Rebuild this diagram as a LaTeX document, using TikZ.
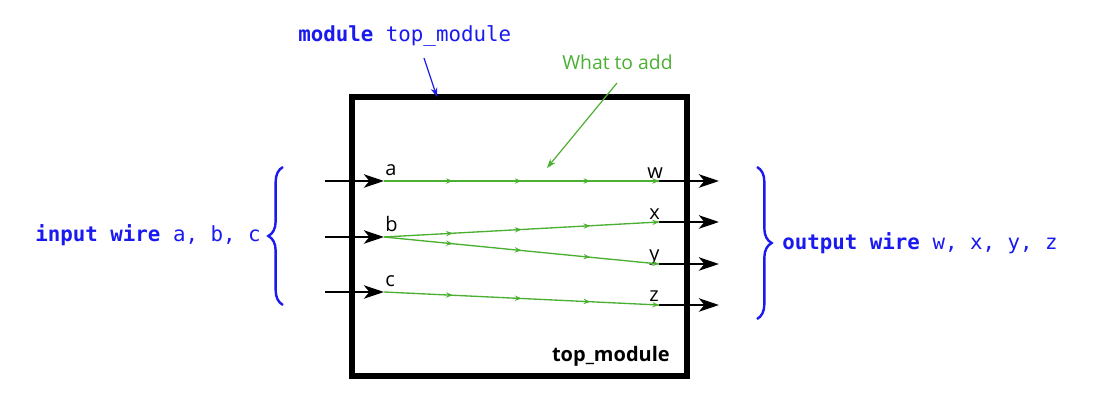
\documentclass[tikz,border=0pt]{standalone}
\usepackage{fontspec}
\setmainfont{Open Sans}
\setmonofont{DejaVu Sans Mono}
\usetikzlibrary{arrows.meta, decorations.pathreplacing, decorations.markings}
\definecolor{wireblue}{RGB}{25, 25, 240}
\definecolor{addgreen}{RGB}{75, 175, 50}

\begin{document}
\begin{tikzpicture}[
  x=0.75pt, y=-0.75pt,
  modbox/.style={draw=black, line width=4pt},
  port/.style={draw=black, line width=2.1pt, -{Stealth[length=15pt, width=10pt, inset=4pt]}},
  conn/.style={draw=addgreen, line width=1pt, postaction={decorate}, decoration={markings,
      mark=at position 0.25 with {\arrow{Stealth[length=5pt, width=4pt]}},
      mark=at position 0.5 with {\arrow{Stealth[length=5pt, width=4pt]}},
      mark=at position 0.75 with {\arrow{Stealth[length=5pt, width=4pt]}},
      mark=at position 1 with {\arrow{Stealth[length=5pt, width=4pt]}}}},
  pinlabel/.style={anchor=base west, inner sep=0pt, font=\fontsize{15}{18}\selectfont},
  codetext/.style={anchor=base west, inner sep=0pt, text=wireblue, font=\fontsize{15.6}{18}\selectfont\ttfamily},
  bracket/.style={draw=wireblue, line width=1.8pt, decorate, decoration={brace, amplitude=11pt}}
]
  \useasboundingbox (0,0) rectangle (1115,402);

  % module box
  \coordinate (boxnw) at (352,97);
  \coordinate (boxse) at (687,376);
  \draw[modbox] (boxnw) rectangle (boxse);
  \node[anchor=base east, inner sep=0pt, font=\fontsize{15}{18}\selectfont\bfseries] (modname) at (670,362) {top\_module};

  % input ports
  \coordinate (ain) at (325,181); \coordinate (a) at (384,181);
  \coordinate (bin) at (325,237); \coordinate (b) at (384,237);
  \coordinate (cin) at (325,292); \coordinate (c) at (384,292);
  \draw[port] (ain) -- (a);
  \draw[port] (bin) -- (b);
  \draw[port] (cin) -- (c);
  \node[pinlabel] (alabel) at (385,176) {a};
  \node[pinlabel] (blabel) at (385,232) {b};
  \node[pinlabel] (clabel) at (385,287) {c};

  % output ports
  \coordinate (w) at (659,181); \coordinate (wout) at (719,181);
  \coordinate (x) at (659,222); \coordinate (xout) at (719,222);
  \coordinate (y) at (659,264); \coordinate (yout) at (719,264);
  \coordinate (z) at (659,305); \coordinate (zout) at (719,305);
  \draw[port] (w) -- (wout);
  \draw[port] (x) -- (xout);
  \draw[port] (y) -- (yout);
  \draw[port] (z) -- (zout);
  \node[pinlabel] (wlabel) at (647,179) {w};
  \node[pinlabel] (xlabel) at (649,220) {x};
  \node[pinlabel] (ylabel) at (649,261) {y};
  \node[pinlabel] (zlabel) at (649,302) {z};

  % the wires to add
  \draw[conn] (a) -- (w);
  \draw[conn] (b) -- (x);
  \draw[conn] (b) -- (y);
  \draw[conn] (c) -- (z);

  % notes
  \node[codetext] (modnote) at (298,42) {\textbf{module} top\_module};
  \coordinate (modtip) at (437,97);
  \draw[draw=wireblue, line width=0.9pt, -{Stealth[length=7pt, width=5pt]}] (424,58) -- (modtip);

  \node[anchor=base west, inner sep=0pt, text=addgreen, font=\fontsize{14.5}{18}\selectfont] (addnote) at (562,70) {What to add};
  \coordinate (addfrom) at (617,83);
  \coordinate (addtip) at (547,168);
  \draw[draw=addgreen, line width=0.9pt, -{Stealth[length=7pt, width=5pt]}] (addfrom) -- (addtip);

  % braces
  \coordinate (lbbot) at (283,305); \coordinate (lbtop) at (283,167);
  \coordinate (rbtop) at (757,167); \coordinate (rbbot) at (757,319);
  \draw[bracket] (lbbot) -- (lbtop);
  \draw[bracket] (rbtop) -- (rbbot);
  \node[codetext] (innote) at (35,242) {\textbf{input wire} a, b, c};
  \node[codetext] (outnote) at (782,250) {\textbf{output wire} w, x, y, z};
\end{tikzpicture}
\end{document}
